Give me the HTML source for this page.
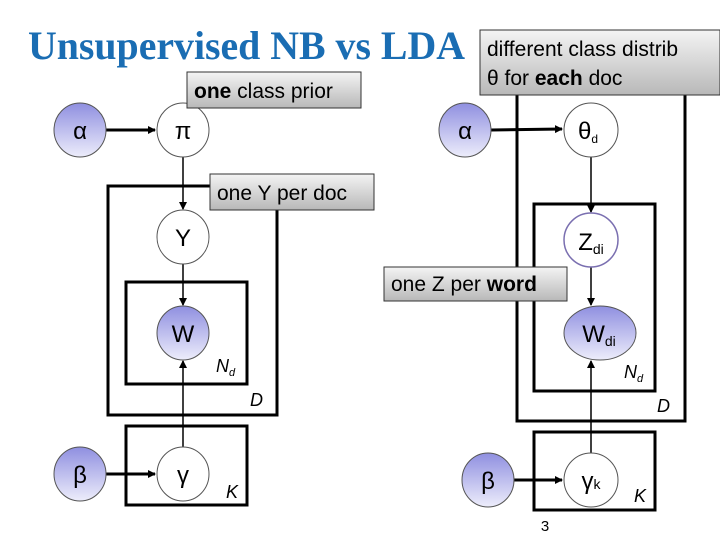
<!DOCTYPE html>
<html><head><meta charset="utf-8"><style>
body{margin:0;background:#fff}
svg{display:block}
.t{font-family:"Liberation Sans",sans-serif}
</style></head><body>
<svg width="720" height="540" viewBox="0 0 720 540" xmlns="http://www.w3.org/2000/svg">
<defs>
<linearGradient id="fill" x1="0" y1="0" x2="0" y2="1"><stop offset="0" stop-color="#8f8fe0"/><stop offset="1" stop-color="#ededfb"/></linearGradient>
<linearGradient id="box" x1="0" y1="0" x2="0" y2="1"><stop offset="0" stop-color="#f4f4f4"/><stop offset="1" stop-color="#b8b8b8"/></linearGradient>
<marker id="ar" markerWidth="8" markerHeight="8" refX="7" refY="4" orient="auto" markerUnits="userSpaceOnUse"><path d="M0,0 L8,4 L0,8 z" fill="#000"/></marker>
</defs>
<text x="28" y="59" font-family="Liberation Serif,serif" font-weight="bold" font-size="40" fill="#1a6db3" textLength="437" lengthAdjust="spacingAndGlyphs">Unsupervised NB vs LDA</text>

<g fill="none" stroke="#000" stroke-width="3">
<rect x="108" y="186" width="169" height="229"/>
<rect x="126" y="282" width="121" height="102"/>
<rect x="126" y="426" width="121" height="79"/>
<rect x="517" y="90" width="168" height="331"/>
<rect x="534" y="204" width="121" height="187"/>
<rect x="534" y="432" width="121" height="78"/>
</g>

<g stroke="#000" stroke-width="1.5" fill="none">
<line x1="183" y1="157" x2="183" y2="209" marker-end="url(#ar)"/>
<line x1="183" y1="264" x2="183" y2="305" marker-end="url(#ar)"/>
<line x1="183" y1="447" x2="183" y2="361" marker-end="url(#ar)"/>
<line x1="591" y1="157" x2="591" y2="212" marker-end="url(#ar)"/>
<line x1="591" y1="267" x2="591" y2="305" marker-end="url(#ar)"/>
<line x1="591" y1="453" x2="591" y2="361" marker-end="url(#ar)"/>
</g>
<g stroke="#000" stroke-width="3" fill="none">
<line x1="106" y1="130" x2="155" y2="130" marker-end="url(#ar)"/>
<line x1="106" y1="474" x2="155" y2="474" marker-end="url(#ar)"/>
<line x1="491" y1="130" x2="562" y2="129" marker-end="url(#ar)"/>
<line x1="514" y1="480" x2="562" y2="480" marker-end="url(#ar)"/>
</g>

<g stroke="#555" stroke-width="1">
<ellipse cx="80" cy="130" rx="26" ry="27" fill="url(#fill)"/>
<ellipse cx="183" cy="130" rx="26" ry="27" fill="#fff"/>
<ellipse cx="183" cy="237" rx="26" ry="27" fill="#fff"/>
<ellipse cx="183" cy="333" rx="26" ry="27" fill="url(#fill)"/>
<ellipse cx="80" cy="474" rx="26" ry="27" fill="url(#fill)"/>
<ellipse cx="183" cy="474" rx="26" ry="27" fill="#fff"/>
<ellipse cx="465" cy="130" rx="26" ry="27" fill="url(#fill)"/>
<ellipse cx="591" cy="130" rx="27" ry="27" fill="#fff"/>
<ellipse cx="591" cy="240" rx="27" ry="27" fill="#fff" stroke="#7a6fb0" stroke-width="1.5"/>
<ellipse cx="600" cy="333" rx="36" ry="27" fill="url(#fill)"/>
<ellipse cx="488" cy="480" rx="26" ry="27" fill="url(#fill)"/>
<ellipse cx="591" cy="480" rx="27" ry="27" fill="#fff"/>
</g>

<g class="t" font-size="24" text-anchor="middle" fill="#000">
<text x="80" y="139">α</text>
<text x="183" y="139">π</text>
<text x="183" y="246">Y</text>
<text x="183" y="342">W</text>
<text x="80" y="483">β</text>
<text x="183" y="483">γ</text>
<text x="465" y="139">α</text>
<text x="588" y="139">θ<tspan font-size="12" dy="4">d</tspan></text>
<text x="591" y="250">Z<tspan font-size="14" dy="4">di</tspan></text>
<text x="599" y="342">W<tspan font-size="14" dy="4">di</tspan></text>
<text x="488" y="489">β</text>
<text x="591" y="489">γ<tspan font-size="14">k</tspan></text>
</g>
<g class="t" font-size="18" font-style="italic" fill="#000">
<text x="216" y="372">N<tspan font-size="11" dy="4">d</tspan></text>
<text x="250" y="406">D</text>
<text x="226" y="498">K</text>
<text x="624" y="378">N<tspan font-size="11" dy="4">d</tspan></text>
<text x="657" y="412">D</text>
<text x="634" y="502">K</text>
</g>
<text x="545" y="531" class="t" font-size="15" text-anchor="middle">3</text>

<g stroke="#333" stroke-width="1" fill="url(#box)">
<rect x="187" y="72" width="174" height="36"/>
<rect x="210" y="174" width="164" height="36"/>
<rect x="384" y="267" width="183" height="34"/>
<rect x="480" y="30" width="240" height="65"/>
</g>
<g class="t" font-size="21" fill="#000">
<text x="194" y="98"><tspan font-weight="bold">one</tspan> class prior</text>
<text x="217" y="200">one Y per doc</text>
<text x="391" y="291">one Z per <tspan font-weight="bold">word</tspan></text>
<text x="487" y="56">different class distrib</text>
<text x="487" y="85">θ for <tspan font-weight="bold">each</tspan> doc</text>
</g>
</svg>
</body></html>
